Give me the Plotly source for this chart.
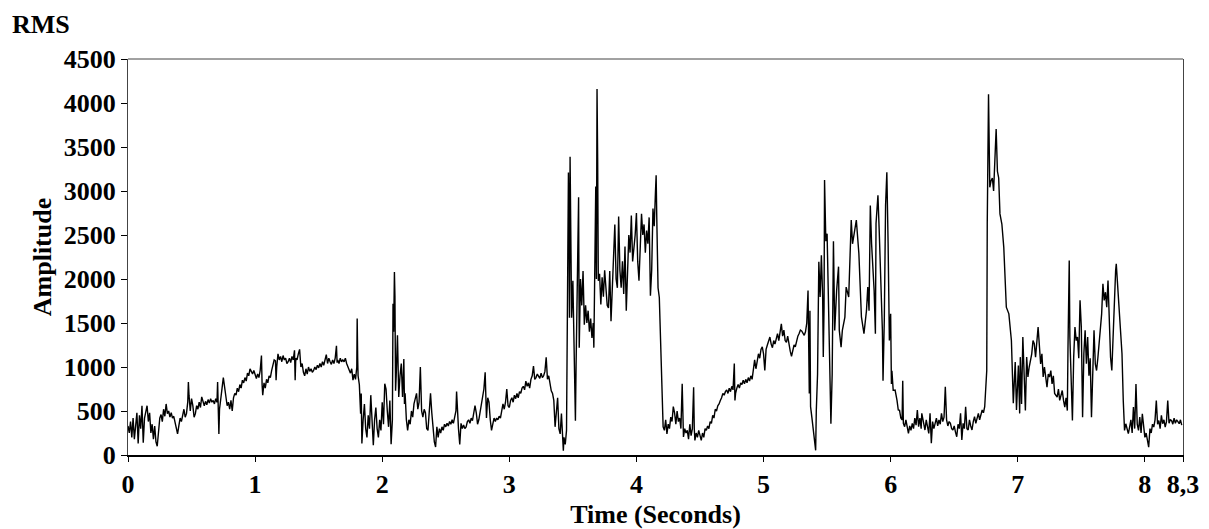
import plotly.graph_objects as go

# RMS amplitude readings (time in seconds, amplitude), per segment
seg_0_to_1 = [
    (0.00, 330), (0.01, 250), (0.02, 380), (0.03, 200), (0.04, 420), (0.05, 180), (0.06, 330),
    (0.07, 480), (0.08, 130), (0.09, 450), (0.10, 300), (0.11, 560), (0.12, 140), (0.13, 420),
    (0.15, 560), (0.16, 380), (0.17, 480), (0.18, 250), (0.19, 350), (0.20, 180), (0.21, 330),
    (0.22, 150), (0.23, 100), (0.24, 300), (0.25, 420), (0.26, 460), (0.27, 380), (0.28, 520),
    (0.29, 440), (0.30, 580), (0.31, 470), (0.32, 500), (0.33, 430), (0.34, 480), (0.35, 420),
    (0.36, 440), (0.37, 380), (0.38, 300), (0.39, 240), (0.40, 330), (0.41, 420), (0.42, 380),
    (0.43, 460), (0.44, 520), (0.45, 430), (0.46, 470), (0.47, 600), (0.475, 830), (0.48, 680),
    (0.49, 500), (0.50, 640), (0.51, 560), (0.52, 430), (0.53, 470), (0.54, 560), (0.55, 520),
    (0.56, 600), (0.57, 540), (0.58, 660), (0.59, 620), (0.60, 560), (0.61, 610), (0.62, 570),
    (0.63, 630), (0.64, 590), (0.65, 640), (0.66, 600), (0.67, 620), (0.68, 580), (0.69, 640),
    (0.70, 600), (0.705, 830), (0.71, 620), (0.715, 240), (0.72, 520), (0.73, 680), (0.74, 760),
    (0.75, 880), (0.76, 780), (0.77, 640), (0.78, 560), (0.79, 600), (0.80, 520), (0.81, 620),
    (0.82, 500), (0.83, 650), (0.84, 700), (0.85, 680), (0.86, 760), (0.87, 720), (0.88, 800),
    (0.89, 760), (0.90, 850), (0.91, 820), (0.92, 880), (0.93, 840), (0.94, 930), (0.95, 900),
    (0.96, 980), (0.97, 950), (0.98, 920), (0.99, 960), (1.00, 900), (1.01, 870), (1.02, 920),
    (1.03, 880),
]

seg_1_to_2 = [
    (1.04, 960), (1.05, 1130), (1.055, 800), (1.06, 680), (1.07, 820), (1.08, 760), (1.09, 860),
    (1.10, 820), (1.11, 900), (1.12, 880), (1.13, 960), (1.14, 1020), (1.15, 1080), (1.16, 1070),
    (1.165, 850), (1.17, 1000), (1.18, 1150), (1.19, 1080), (1.20, 1120), (1.21, 1060),
    (1.22, 1130), (1.23, 1080), (1.24, 1100), (1.25, 1040), (1.26, 1060), (1.27, 1100),
    (1.28, 1050), (1.29, 1120), (1.30, 1080), (1.31, 1190), (1.315, 850), (1.32, 1100),
    (1.33, 1080), (1.34, 1150), (1.35, 1200), (1.36, 1000), (1.37, 1040), (1.38, 940),
    (1.39, 900), (1.40, 980), (1.41, 920), (1.42, 1000), (1.43, 950), (1.44, 980), (1.45, 940),
    (1.46, 960), (1.47, 1000), (1.48, 970), (1.49, 1020), (1.50, 990), (1.51, 1040), (1.52, 1000),
    (1.53, 1060), (1.54, 1020), (1.55, 1080), (1.56, 1140), (1.57, 1040), (1.58, 1100),
    (1.59, 1060), (1.60, 1030), (1.61, 1080), (1.62, 1040), (1.63, 1100), (1.64, 1240),
    (1.645, 1050), (1.65, 1080), (1.66, 1040), (1.67, 1100), (1.68, 1060), (1.69, 1080),
    (1.70, 1060), (1.71, 1100), (1.72, 1040), (1.73, 1000), (1.74, 960), (1.75, 930), (1.76, 980),
    (1.77, 850), (1.78, 920), (1.79, 860), (1.80, 1000), (1.803, 1550), (1.807, 1100), (1.81, 900),
    (1.82, 800), (1.83, 470), (1.835, 700), (1.84, 130), (1.85, 400), (1.86, 580), (1.87, 300),
    (1.88, 200), (1.89, 450), (1.90, 300), (1.91, 680), (1.92, 350), (1.93, 110), (1.94, 400),
    (1.95, 540), (1.96, 300), (1.97, 200), (1.98, 400), (1.99, 280),
]

seg_2_to_3 = [
    (2.00, 600), (2.01, 350), (2.02, 810), (2.03, 750), (2.04, 500), (2.05, 320), (2.06, 620),
    (2.065, 240), (2.07, 123), (2.08, 400), (2.085, 1720), (2.09, 1400), (2.096, 2080),
    (2.10, 1810), (2.105, 730), (2.11, 900), (2.12, 1360), (2.13, 660), (2.14, 900), (2.15, 1040),
    (2.16, 660), (2.17, 1090), (2.175, 580), (2.18, 700), (2.19, 400), (2.20, 280), (2.21, 400),
    (2.22, 350), (2.23, 500), (2.24, 430), (2.25, 580), (2.26, 650), (2.27, 700), (2.28, 520),
    (2.29, 600), (2.30, 1000), (2.305, 580), (2.31, 500), (2.32, 430), (2.33, 520), (2.34, 480),
    (2.35, 300), (2.36, 280), (2.37, 500), (2.38, 700), (2.39, 480), (2.40, 250), (2.41, 150),
    (2.42, 90), (2.43, 320), (2.44, 200), (2.45, 300), (2.46, 250), (2.47, 320), (2.48, 280),
    (2.49, 350), (2.50, 320), (2.51, 360), (2.52, 330), (2.53, 380), (2.54, 350), (2.55, 400),
    (2.56, 360), (2.57, 420), (2.58, 500), (2.585, 720), (2.59, 560), (2.60, 300), (2.61, 120),
    (2.62, 360), (2.63, 300), (2.64, 340), (2.65, 300), (2.66, 320), (2.67, 380), (2.68, 400),
    (2.69, 360), (2.70, 420), (2.71, 390), (2.72, 500), (2.73, 560), (2.74, 480), (2.75, 350),
    (2.76, 400), (2.77, 500), (2.78, 600), (2.79, 700), (2.80, 750), (2.81, 940), (2.815, 500),
    (2.82, 420), (2.83, 650), (2.84, 600), (2.85, 400), (2.86, 280), (2.87, 350), (2.88, 420),
    (2.89, 380), (2.90, 420), (2.91, 400), (2.92, 440), (2.93, 420), (2.94, 500), (2.95, 580),
    (2.96, 520), (2.97, 600), (2.98, 750), (2.99, 560),
]

seg_3_to_4 = [
    (3.00, 540), (3.01, 620), (3.02, 650), (3.03, 600), (3.04, 680), (3.05, 640), (3.06, 700),
    (3.07, 650), (3.08, 720), (3.09, 700), (3.10, 760), (3.11, 780), (3.12, 740), (3.13, 840),
    (3.14, 780), (3.15, 820), (3.16, 760), (3.17, 860), (3.18, 900), (3.19, 1010), (3.20, 860),
    (3.21, 880), (3.22, 920), (3.23, 900), (3.24, 870), (3.25, 930), (3.26, 880), (3.27, 900),
    (3.28, 950), (3.29, 1110), (3.295, 880), (3.30, 860), (3.31, 900), (3.32, 820), (3.33, 730),
    (3.34, 700), (3.35, 620), (3.36, 320), (3.37, 500), (3.38, 650), (3.39, 300), (3.40, 240),
    (3.41, 470), (3.42, 150), (3.425, 50), (3.43, 200), (3.44, 120), (3.45, 280), (3.455, 1080),
    (3.46, 2000), (3.465, 3210), (3.47, 2600), (3.473, 1560), (3.478, 3390), (3.485, 2500),
    (3.49, 1560), (3.50, 1980), (3.51, 1100), (3.52, 390), (3.525, 1000), (3.53, 1640),
    (3.535, 2000), (3.545, 2930), (3.55, 1220), (3.555, 1640), (3.56, 2000), (3.57, 1700),
    (3.58, 2090), (3.59, 1480), (3.60, 1700), (3.61, 1500), (3.62, 1640), (3.63, 1400),
    (3.64, 1550), (3.65, 1330), (3.66, 1500), (3.665, 1220), (3.67, 2000), (3.675, 2820),
    (3.68, 3050), (3.685, 2000), (3.69, 4160), (3.695, 3340), (3.70, 1980), (3.71, 2060),
    (3.72, 1710), (3.73, 2020), (3.74, 1800), (3.75, 2100), (3.76, 1900), (3.77, 1700),
    (3.78, 1670), (3.79, 2090), (3.80, 1520), (3.81, 1900), (3.82, 2200), (3.83, 2620),
    (3.84, 2000), (3.85, 1900), (3.86, 2710), (3.87, 2100), (3.88, 1900), (3.89, 2200),
    (3.90, 1830), (3.91, 2370), (3.92, 1640), (3.93, 2200), (3.94, 2500), (3.95, 2300),
    (3.96, 2720), (3.97, 2200), (3.98, 2330), (3.99, 2500),
]

seg_4_to_5 = [
    (4.00, 2750), (4.01, 2200), (4.02, 1980), (4.03, 2400), (4.04, 2740), (4.05, 2500),
    (4.06, 2620), (4.07, 2300), (4.08, 2550), (4.09, 2400), (4.10, 2700), (4.11, 1810),
    (4.12, 2100), (4.13, 2800), (4.14, 2600), (4.15, 3000), (4.155, 3180), (4.16, 2700),
    (4.165, 2200), (4.17, 1900), (4.18, 1790), (4.19, 1230), (4.20, 620), (4.21, 320), (4.22, 280),
    (4.23, 400), (4.24, 240), (4.25, 350), (4.26, 300), (4.27, 430), (4.28, 380), (4.29, 550),
    (4.30, 480), (4.31, 350), (4.32, 500), (4.33, 380), (4.34, 420), (4.35, 300), (4.36, 810),
    (4.365, 400), (4.37, 205), (4.38, 300), (4.39, 250), (4.40, 280), (4.41, 180), (4.42, 350),
    (4.43, 220), (4.44, 300), (4.45, 770), (4.455, 300), (4.46, 166), (4.47, 250), (4.48, 200),
    (4.49, 280), (4.50, 220), (4.51, 166), (4.52, 250), (4.53, 200), (4.54, 300), (4.55, 280),
    (4.56, 330), (4.57, 300), (4.58, 380), (4.59, 360), (4.60, 450), (4.61, 420), (4.62, 520),
    (4.63, 500), (4.64, 560), (4.65, 580), (4.66, 620), (4.67, 650), (4.68, 700), (4.69, 680),
    (4.70, 720), (4.71, 740), (4.72, 700), (4.73, 760), (4.74, 720), (4.75, 780), (4.76, 740),
    (4.77, 1040), (4.775, 620), (4.78, 700), (4.79, 760), (4.80, 800), (4.81, 760), (4.82, 820),
    (4.83, 800), (4.84, 850), (4.85, 810), (4.86, 860), (4.87, 820), (4.88, 880), (4.89, 840),
    (4.90, 900), (4.91, 860), (4.92, 950), (4.93, 1080), (4.94, 980), (4.95, 1050), (4.96, 1150),
    (4.97, 1100), (4.98, 1200), (4.99, 1230),
]

seg_5_to_6 = [
    (5.00, 1150), (5.01, 960), (5.02, 1200), (5.03, 1250), (5.04, 1300), (5.05, 1340),
    (5.06, 1260), (5.07, 1220), (5.08, 1300), (5.09, 1260), (5.10, 1320), (5.11, 1380),
    (5.12, 1300), (5.13, 1400), (5.14, 1490), (5.15, 1350), (5.16, 1420), (5.17, 1300),
    (5.18, 1280), (5.19, 1350), (5.20, 1240), (5.21, 1180), (5.22, 1120), (5.23, 1200),
    (5.24, 1250), (5.25, 1230), (5.26, 1300), (5.27, 1350), (5.28, 1380), (5.29, 1420),
    (5.30, 1410), (5.31, 1380), (5.32, 1360), (5.33, 1400), (5.34, 1500), (5.35, 1870),
    (5.355, 1150), (5.36, 700), (5.365, 1640), (5.37, 550), (5.38, 430), (5.39, 320), (5.40, 200),
    (5.41, 53), (5.415, 500), (5.425, 920), (5.435, 2195), (5.445, 1795), (5.455, 2271),
    (5.465, 1795), (5.47, 1113), (5.476, 1681), (5.48, 3125), (5.49, 2430), (5.50, 2515),
    (5.51, 1681), (5.52, 1302), (5.53, 355), (5.54, 920), (5.55, 2430), (5.56, 1416),
    (5.575, 1870), (5.59, 2140), (5.596, 1416), (5.61, 1226), (5.62, 1416), (5.64, 1567),
    (5.65, 1908), (5.67, 1795), (5.68, 2250), (5.69, 2670), (5.70, 2400), (5.72, 2590),
    (5.73, 2670), (5.75, 2290), (5.76, 1870), (5.77, 1570), (5.79, 1380), (5.81, 1643),
    (5.82, 1908), (5.83, 1640), (5.84, 2835), (5.85, 2400), (5.87, 1870), (5.88, 1378),
    (5.885, 2630), (5.90, 2950), (5.91, 2550), (5.92, 2098), (5.935, 1416), (5.94, 845),
    (5.95, 1530), (5.96, 2835), (5.97, 3214), (5.98, 2400), (5.99, 1302),
]

seg_6_to_7 = [
    (6.00, 1604), (6.006, 808), (6.01, 958), (6.02, 735), (6.035, 738), (6.05, 620), (6.06, 511),
    (6.07, 508), (6.08, 420), (6.09, 398), (6.095, 844), (6.10, 360), (6.11, 322), (6.12, 400),
    (6.13, 300), (6.14, 246), (6.15, 330), (6.16, 280), (6.17, 360), (6.18, 300), (6.19, 420),
    (6.20, 340), (6.21, 511), (6.22, 322), (6.23, 420), (6.24, 300), (6.245, 473), (6.26, 330),
    (6.27, 284), (6.28, 400), (6.29, 300), (6.30, 246), (6.31, 473), (6.32, 133), (6.33, 380),
    (6.34, 300), (6.35, 360), (6.36, 420), (6.37, 330), (6.38, 398), (6.39, 350), (6.40, 473),
    (6.41, 380), (6.42, 430), (6.43, 776), (6.44, 400), (6.45, 330), (6.46, 380), (6.47, 360),
    (6.48, 300), (6.49, 284), (6.50, 330), (6.51, 260), (6.52, 208), (6.53, 350), (6.54, 300),
    (6.55, 473), (6.56, 170), (6.57, 360), (6.58, 300), (6.59, 549), (6.60, 300), (6.61, 284),
    (6.62, 400), (6.63, 330), (6.64, 284), (6.65, 380), (6.66, 436), (6.67, 360), (6.68, 420),
    (6.69, 473), (6.70, 400), (6.71, 460), (6.72, 511), (6.73, 480), (6.74, 549), (6.756, 958),
    (6.76, 2625), (6.77, 4100), (6.78, 3042), (6.79, 3118), (6.80, 3148), (6.81, 3000),
    (6.82, 3345), (6.83, 3705), (6.84, 3224), (6.85, 3148), (6.86, 2740), (6.875, 2625),
    (6.89, 2360), (6.90, 1982), (6.91, 1680), (6.93, 1604), (6.94, 1415), (6.95, 1301),
    (6.965, 587), (6.98, 1056), (6.99, 511),
]

seg_7_to_end = [
    (7.005, 1018), (7.015, 473), (7.02, 1112), (7.03, 581), (7.04, 1340), (7.06, 505),
    (7.07, 1112), (7.08, 886), (7.09, 1000), (7.11, 1150), (7.12, 1300), (7.13, 1264),
    (7.14, 1112), (7.16, 1454), (7.17, 1188), (7.18, 1036), (7.19, 1150), (7.20, 886),
    (7.21, 1000), (7.23, 770), (7.24, 920), (7.25, 886), (7.26, 960), (7.27, 808), (7.28, 900),
    (7.29, 700), (7.31, 658), (7.32, 750), (7.33, 620), (7.34, 700), (7.35, 733), (7.36, 620),
    (7.37, 544), (7.38, 650), (7.39, 505), (7.395, 1200), (7.40, 2096), (7.405, 2210),
    (7.41, 1340), (7.42, 800), (7.43, 392), (7.44, 1112), (7.45, 1454), (7.46, 1300),
    (7.47, 1340), (7.48, 1100), (7.49, 1757), (7.50, 1454), (7.51, 430), (7.52, 1150),
    (7.53, 1416), (7.54, 1036), (7.55, 1340), (7.56, 900), (7.57, 1100), (7.58, 430),
    (7.59, 1036), (7.60, 1416), (7.61, 1036), (7.62, 960), (7.63, 1100), (7.65, 1416),
    (7.66, 1604), (7.67, 1945), (7.68, 1757), (7.69, 1850), (7.70, 1680), (7.71, 1983),
    (7.72, 1491), (7.73, 1112), (7.74, 960), (7.75, 1400), (7.76, 1800), (7.77, 2096),
    (7.775, 2172), (7.78, 2058), (7.79, 1800), (7.80, 1680), (7.81, 1400), (7.82, 1150),
    (7.83, 620), (7.84, 280), (7.85, 355), (7.86, 300), (7.87, 242), (7.88, 318), (7.89, 400),
    (7.90, 250), (7.91, 545), (7.92, 300), (7.93, 808), (7.94, 350), (7.95, 280), (7.96, 430),
    (7.97, 250), (7.98, 468), (7.99, 300), (8.00, 200), (8.01, 250), (8.02, 166), (8.03, 90),
    (8.04, 300), (8.05, 250), (8.06, 350), (8.07, 318), (8.08, 400), (8.09, 620), (8.10, 350),
    (8.11, 392), (8.12, 300), (8.13, 450), (8.14, 355), (8.15, 400), (8.16, 318), (8.17, 380),
    (8.18, 620), (8.19, 360), (8.20, 400), (8.21, 392), (8.22, 350), (8.23, 420), (8.24, 360),
    (8.25, 400), (8.26, 380), (8.27, 355), (8.28, 400), (8.29, 340),
]

x_tick_values = [0, 1, 2, 3, 4, 5, 6, 7, 8, 8.3]
x_tick_labels = ["0", "1", "2", "3", "4", "5", "6", "7", "8", "8,3"]
y_tick_values = [0, 500, 1000, 1500, 2000, 2500, 3000, 3500, 4000, 4500]

segments = [seg_0_to_1, seg_1_to_2, seg_2_to_3, seg_3_to_4, seg_4_to_5,
            seg_5_to_6, seg_6_to_7, seg_7_to_end]
time_s = [t for seg in segments for t, _ in seg]
rms = [v for seg in segments for _, v in seg]

FONT = "Liberation Serif"

fig = go.Figure()
fig.add_trace(go.Scatter(
    x=time_s, y=rms, mode="lines",
    line=dict(color="black", width=1.4),
    hoverinfo="x+y", showlegend=False,
))

fig.update_layout(
    width=1209, height=529,
    margin=dict(l=128, r=26, t=59, b=74),
    paper_bgcolor="white", plot_bgcolor="white",
    font=dict(family=FONT, size=26, color="black"),
    xaxis=dict(
        range=[0, 8.3], tickmode="array", tickvals=x_tick_values, ticktext=x_tick_labels,
        ticks="outside", ticklen=5, tickwidth=1, tickcolor="black",
        showline=True, linecolor="black", linewidth=2, mirror=False,
        showgrid=False, zeroline=False, automargin=False,
        tickfont=dict(family=FONT, size=26, color="black", weight="bold"),
        title=dict(text="<b>Time (Seconds)</b>", standoff=13,
                   font=dict(family=FONT, size=26, color="black")),
    ),
    yaxis=dict(
        range=[0, 4500], tickmode="array", tickvals=y_tick_values,
        ticks="outside", ticklen=6, tickwidth=1, tickcolor="black",
        showline=True, linecolor="#444444", linewidth=1, mirror=True,
        showgrid=False, zeroline=False, automargin=False,
        tickfont=dict(family=FONT, size=26, color="black", weight="bold"),
        title=dict(text="<b>Amplitude</b>", standoff=4,
                   font=dict(family=FONT, size=26, color="black")),
    ),
    shapes=[dict(type="line", xref="paper", yref="paper", x0=0, x1=1, y0=1, y1=1,
                 line=dict(color="#444444", width=1))],
    annotations=[dict(text="<b>RMS</b>", xref="paper", yref="paper",
                      x=-0.112, y=1.088, xanchor="left", yanchor="middle",
                      showarrow=False, font=dict(family=FONT, size=26, color="black"))],
)

fig.write_html("out.html")
